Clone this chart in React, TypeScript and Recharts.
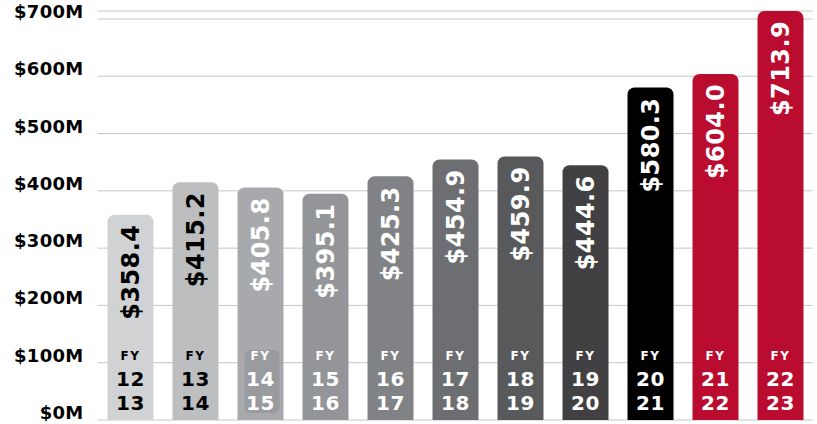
import React from "react";
import { BarChart, Bar, XAxis, YAxis, CartesianGrid, Cell, LabelList } from "recharts";

const fyStart = ["12", "13", "14", "15", "16", "17", "18", "19", "20", "21", "22"];
const fyEnd = ["13", "14", "15", "16", "17", "18", "19", "20", "21", "22", "23"];
const revenue = [358.4, 415.2, 405.8, 395.1, 425.3, 454.9, 459.9, 444.6, 580.3, 604.0, 713.9];
const barColors = ["#d1d2d4", "#bcbec0", "#a7a9ac", "#939598", "#808285", "#6d6e71", "#58595b", "#414042", "#000000", "#ba0c2f", "#ba0c2f"];
const textColors = ["#000000", "#000000", "#ffffff", "#ffffff", "#ffffff", "#ffffff", "#ffffff", "#ffffff", "#ffffff", "#ffffff", "#ffffff"];
const yTicks = [0, 100, 200, 300, 400, 500, 600, 700];

const data = revenue.map((v, i) => ({
  name: `FY ${fyStart[i]} ${fyEnd[i]}`,
  value: v,
  start: fyStart[i],
  end: fyEnd[i],
}));

const FONT = "'DejaVu Sans', sans-serif";

const ValueLabel = (props: any) => {
  const { x, y, width, index, value } = props;
  const cx = x + width / 2;
  const ty = y + 10;
  return (
    <text
      x={cx}
      y={ty}
      dy="0.36em"
      textAnchor="end"
      transform={`rotate(-90, ${cx}, ${ty})`}
      fill={textColors[index]}
      fontFamily={FONT}
      fontWeight="bold"
      fontSize={24}
      letterSpacing={0.4}
    >
      {`$${Number(value).toFixed(1)}`}
    </text>
  );
};

const FyLabel = (props: any) => {
  const { x, y, width, height, index } = props;
  const cx = x + width / 2;
  const bottom = y + height;
  const fill = textColors[index];
  return (
    <g>
      {index === 2 && (
        <rect x={cx - 16} y={bottom - 70} width={35} height={63} rx={6} fill="#999b9e" />
      )}
      <text x={cx} y={bottom - 60} textAnchor="middle" fill={fill} fontFamily={FONT} fontWeight="bold" fontSize={12} letterSpacing={1.5}>
        FY
      </text>
      <text x={cx} y={bottom - 34.5} textAnchor="middle" fill={fill} fontFamily={FONT} fontWeight="bold" fontSize={20} letterSpacing={0.5}>
        {fyStart[index]}
      </text>
      <text x={cx} y={bottom - 10} textAnchor="middle" fill={fill} fontFamily={FONT} fontWeight="bold" fontSize={20} letterSpacing={0.5}>
        {fyEnd[index]}
      </text>
    </g>
  );
};

const YTick = (props: any) => {
  const { x, y, payload } = props;
  return (
    <text x={x} y={y - 1} textAnchor="end" fill="#000" fontFamily={FONT} fontWeight="bold" fontSize={18} letterSpacing={0.3}>
      {`$${payload.value}M`}
    </text>
  );
};

export default function App() {
  return (
    <div style={{ position: "absolute", left: 0, top: 0, width: 817, height: 424, background: "#fff" }}>
      <BarChart
        width={817}
        height={424}
        data={data}
        margin={{ top: 11, right: 4.5, bottom: 4, left: 0 }}
      >
        <CartesianGrid vertical={false} stroke="#c6c6c6" strokeWidth={1} />
        <XAxis dataKey="name" hide />
        <YAxis
          width={97.5}
          domain={[0, "dataMax"]}
          ticks={yTicks}
          axisLine={false}
          tickLine={false}
          tickSize={0}
          tickMargin={14}
          tick={<YTick />}
          interval={0}
        />
        <Bar dataKey="value" barSize={46} radius={[7, 7, 0, 0]} isAnimationActive={false}>
          {data.map((d, i) => (
            <Cell key={d.name} fill={barColors[i]} />
          ))}
          <LabelList dataKey="value" content={<ValueLabel />} />
          <LabelList dataKey="start" content={<FyLabel />} />
        </Bar>
      </BarChart>
    </div>
  );
}
